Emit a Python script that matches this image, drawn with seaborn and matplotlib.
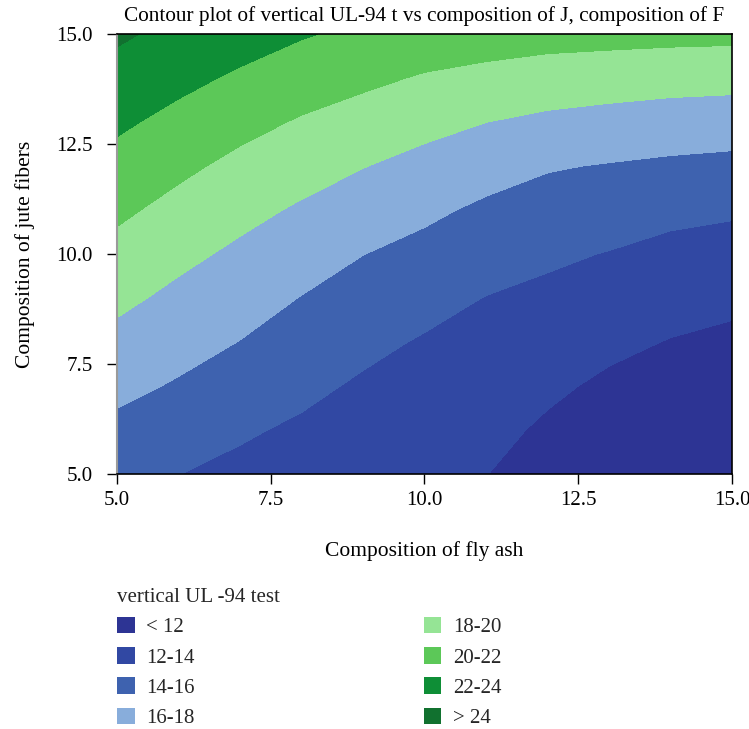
import numpy as np
import pandas as pd
import matplotlib
matplotlib.use("Agg")
import matplotlib.pyplot as plt
from matplotlib.patches import Patch
import seaborn as sns

# grid (composition of fly ash x composition of jute fibers)
fly_ash = [5, 6, 7, 8, 9, 10, 11, 12, 13, 14, 15]
jute = [5, 6, 7, 8, 9, 10, 11, 12, 13, 14, 15]

# vertical UL-94 test values, one row per jute level (5 -> 15)
ul94 = [
    [14.54, 14.02, 13.60, 13.20, 12.80, 12.40, 12.03, 11.30, 10.60, 10.30, 10.00],
    [15.51, 14.92, 14.21, 13.74, 13.29, 12.88, 12.51, 11.72, 11.09, 10.70, 10.44],
    [16.49, 15.81, 15.08, 14.39, 13.77, 13.36, 12.99, 12.33, 11.67, 11.25, 10.97],
    [17.46, 16.68, 15.96, 15.17, 14.42, 13.84, 13.47, 12.96, 12.40, 11.92, 11.59],
    [18.43, 17.55, 16.79, 15.94, 15.22, 14.58, 13.95, 13.59, 13.16, 12.71, 12.42],
    [19.39, 18.46, 17.63, 16.84, 16.02, 15.44, 14.78, 14.30, 13.92, 13.50, 13.28],
    [20.36, 19.41, 18.54, 17.75, 17.03, 16.36, 15.65, 15.20, 14.89, 14.44, 14.22],
    [21.34, 20.40, 19.51, 18.76, 18.05, 17.41, 16.75, 16.14, 15.88, 15.65, 15.48],
    [22.32, 21.44, 20.57, 19.81, 19.21, 18.55, 18.00, 17.58, 17.31, 17.08, 16.94],
    [23.30, 22.49, 21.70, 20.96, 20.38, 19.82, 19.44, 19.11, 18.90, 18.71, 18.62],
    [24.27, 23.53, 22.84, 22.14, 21.60, 21.12, 20.90, 20.69, 20.61, 20.52, 20.46],
]

levels = [0, 12, 14, 16, 18, 20, 22, 24, 40]
band_labels = ["< 12", "12-14", "14-16", "16-18", "18-20", "20-22", "22-24", "> 24"]
band_colors = ["#2d3494", "#3148a3", "#3e62af", "#88addb",
               "#95e495", "#5cc858", "#0e8e36", "#11712f"]

df = pd.DataFrame(ul94, index=jute, columns=fly_ash)

sns.set_theme(style="white")
plt.rcParams['font.family'] = ['Liberation Serif', 'DejaVu Serif']

fig = plt.figure(figsize=(7.49, 7.29), dpi=100)
ax = fig.add_axes([0.1562, 0.3498, 0.8211, 0.6029])

ax.contourf(df.columns.values, df.index.values, df.values,
            levels=levels, colors=band_colors)

ax.set_xlim(5, 15)
ax.set_ylim(5, 15)
ax.set_xticks([5, 7.5, 10, 12.5, 15])
ax.set_yticks([5, 7.5, 10, 12.5, 15])
ax.set_xticklabels(["5.0", "7.5", "10.0", "12.5", "15.0"])
ax.set_yticklabels(["5.0", "7.5", "10.0", "12.5", "15.0"])
ax.tick_params(axis='both', which='major', direction='out', length=7.2, width=1,
               color='black', labelsize=15, labelcolor='black')
ax.tick_params(axis='x', pad=4.7)
ax.tick_params(axis='y', pad=10.5)
ax.xaxis.set_ticks_position('bottom')
ax.yaxis.set_ticks_position('left')

for side in ['top', 'right', 'bottom']:
    ax.spines[side].set_color('black')
    ax.spines[side].set_linewidth(1.2)
ax.spines['left'].set_color('#9a9a9a')
ax.spines['left'].set_linewidth(1.5)

ax.set_title("Contour plot of vertical UL-94 t vs composition of J, composition of F",
             fontsize=15.3, color='black', pad=10)
ax.set_xlabel("Composition of fly ash", fontsize=15.5, color='black', labelpad=23)
ax.set_ylabel("Composition of jute fibers", fontsize=15.5, color='black', labelpad=15)

handles = [Patch(facecolor=c, edgecolor='none') for c in band_colors]
leg = fig.legend(handles, band_labels, loc='upper left',
                 bbox_to_anchor=(0.145, 0.205), ncol=2, frameon=False,
                 title="vertical UL -94 test", title_fontsize=15, fontsize=15,
                 alignment='left', handlelength=0.85, handleheight=0.85,
                 handletextpad=0.55, labelspacing=0.47, columnspacing=11.0,
                 borderaxespad=0)

fig.savefig("out.png", dpi=100)
